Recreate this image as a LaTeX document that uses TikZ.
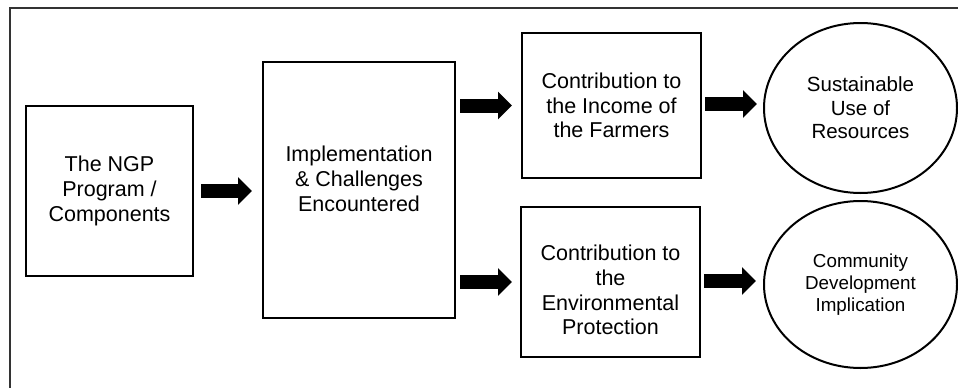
\documentclass[tikz,border=0pt]{standalone}
\usepackage{fontspec}
\setmainfont{Liberation Sans}
\usetikzlibrary{arrows.meta,shapes.geometric}
\begin{document}
\begin{tikzpicture}[x=1pt,y=-1pt,
  box/.style={draw=black,line width=2pt,rectangle,inner sep=0pt},
  oval/.style={draw=black,line width=2pt,ellipse,inner sep=0pt},
  txt/.style={align=center,font=\fontsize{21.5pt}{24.8pt}\selectfont},
  bigarrow/.style={line width=14pt,-{Triangle[length=14pt,width=27pt]}}]
\useasboundingbox (0,0) rectangle (958,388);
\clip (0,0) rectangle (958,388);
\fill[white] (0,0) rectangle (958,388);
\draw[black!80,line width=1.4pt] (10,400) -- (10,8) -- (970,8);
% boxes
\node[box,minimum width=167pt,minimum height=170pt,txt] (b1) at (109.5,191) {The NGP\\Program /\\Components};
\node[box,minimum width=192pt,minimum height=256pt] (b2) at (359,190) {};
\node[txt] (b2t) at ([yshift=11pt]b2.center) {Implementation\\\& Challenges\\Encountered};
\node[box,minimum width=179pt,minimum height=145pt,txt] (b3) at (611.5,105.5) {Contribution to\\the Income of\\the Farmers};
\node[box,minimum width=179pt,minimum height=150pt] (b4) at (610.5,282) {};
\node[txt] (b4t) at ([yshift=-8pt]b4.center) {Contribution to\\the\\Environmental\\Protection};
\node[oval,minimum width=193pt,minimum height=170pt,align=center,font=\fontsize{20.5pt}{23.5pt}\selectfont] (e1) at (860.5,108) {Sustainable\\Use of\\Resources};
\node[oval,minimum width=193pt,minimum height=167pt,align=center,font=\fontsize{18.8pt}{21.8pt}\selectfont] (e2) at (860.5,284.5) {Community\\Development\\Implication};
% arrows
\draw[bigarrow] ([xshift=7pt]b1.east) -- ([xshift=-10pt]b1.east -| b2.west);
\draw[bigarrow] ([xshift=4pt]b3.west -| b2.east) -- ([xshift=-9pt]b3.west);
\draw[bigarrow] ([xshift=4pt]b4.west -| b2.east) -- ([xshift=-8pt]b4.west);
\draw[bigarrow] ([xshift=3pt,yshift=1.5pt]b3.east) -- ([xshift=-6pt,yshift=1.5pt]b3.east -| e1.west);
\draw[bigarrow] ([xshift=3pt,yshift=1pt]b4.east) -- ([xshift=-7pt,yshift=1pt]b4.east -| e2.west);
\end{tikzpicture}
\end{document}
